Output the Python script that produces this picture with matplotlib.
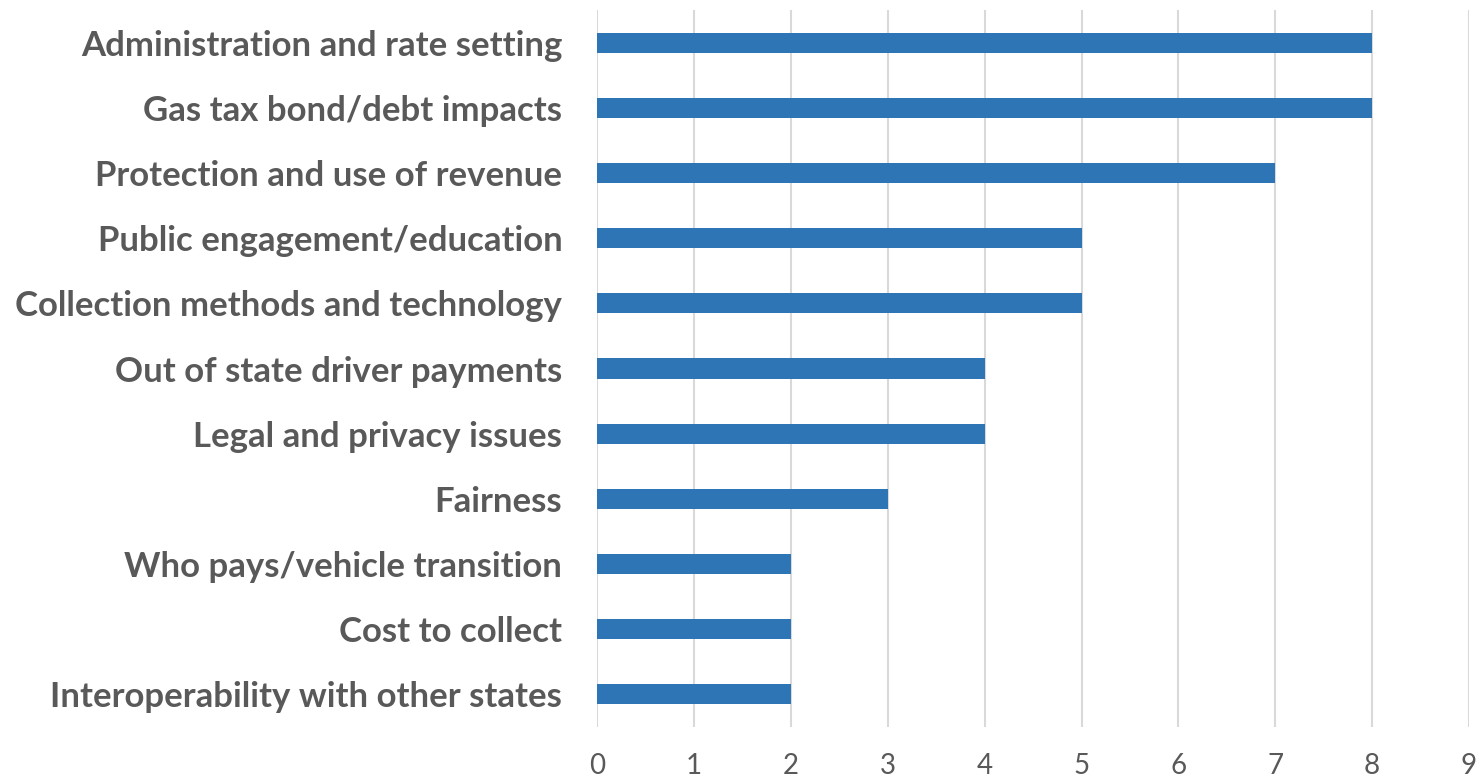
import matplotlib.pyplot as plt

categories = [
    "Administration and rate setting",
    "Gas tax bond/debt impacts",
    "Protection and use of revenue",
    "Public engagement/education",
    "Collection methods and technology",
    "Out of state driver payments",
    "Legal and privacy issues",
    "Fairness",
    "Who pays/vehicle transition",
    "Cost to collect",
    "Interoperability with other states",
]
counts = [8, 8, 7, 5, 5, 4, 4, 3, 2, 2, 2]
x_ticks = list(range(0, 10))

plt.rcParams['font.family'] = ['Lato', 'DejaVu Sans']

fig = plt.figure(figsize=(14.83, 7.8), dpi=100)
ax = fig.add_axes([0.4026, 0.068, 0.5880, 0.919])

ypos = list(range(len(categories)))[::-1]
ax.barh(ypos, counts, height=0.31, color='#2e75b6', zorder=3)

ax.set_xlim(0, 9)
ax.set_ylim(-0.5, 10.5)
ax.set_xticks(x_ticks)
ax.set_yticks(ypos)
ax.set_yticklabels(categories, fontsize=25, fontweight='bold', color='#595959')
ax.tick_params(axis='x', length=0, pad=19, labelsize=20, labelcolor='#595959')
ax.tick_params(axis='y', length=0, pad=25)
ax.grid(axis='x', color='#d9d9d9', linewidth=1.5, zorder=0)
for s in ax.spines.values():
    s.set_visible(False)

fig.savefig('out.png', dpi=100)
